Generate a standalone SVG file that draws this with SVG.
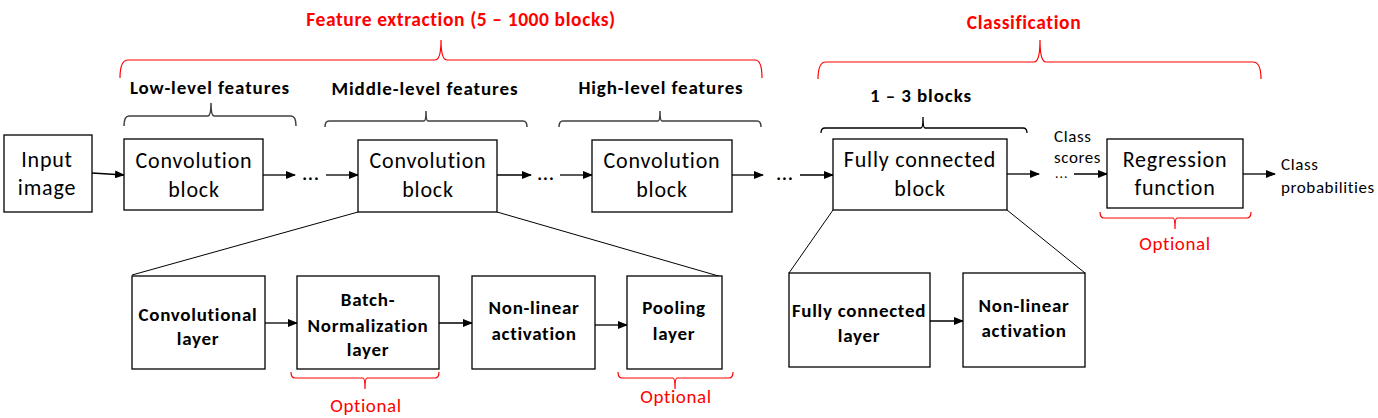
<svg xmlns="http://www.w3.org/2000/svg" width="1378" height="418" viewBox="0 0 1378 418">
<style>
.box{fill:#fff;stroke:#000;stroke-width:1.3}
text{font-family:Calibri,Carlito,"Liberation Sans",Arial,sans-serif}
.t{font-size:22px;letter-spacing:0.8px;fill:#000;text-anchor:middle}
.b{font-size:19px;letter-spacing:0.9px;font-weight:bold;fill:#000;text-anchor:middle}
.bl{font-size:19px;letter-spacing:0.7px;font-weight:bold;fill:#000;text-anchor:middle}
.r{font-size:19.5px;letter-spacing:0.6px;font-weight:bold;fill:#f00;text-anchor:middle}
.opt{font-size:19px;letter-spacing:0.6px;fill:#f00;text-anchor:middle}
.s{font-size:17px;letter-spacing:0.6px;fill:#000}
.dots{font-size:18px;font-weight:bold;letter-spacing:1px;fill:#000;text-anchor:middle}
.arr{stroke:#000;stroke-width:1.3;fill:none;marker-end:url(#ah)}
.ln{stroke:#000;stroke-width:1;fill:none}
.rb{stroke:#f00;stroke-width:1.2;fill:none}
.gb{stroke:#404040;stroke-width:1.5;fill:none}
</style>
<defs>
<marker id="ah" markerWidth="10" markerHeight="8" refX="9" refY="4" orient="auto" markerUnits="userSpaceOnUse">
<path d="M0,0 L10,4 L0,8 z" fill="#000"/>
</marker>
</defs>

<!-- braces -->
<g id="braces">
<path class="rb" d="M120,78 Q120,60 128,60 L435,60 Q441,60 441,40 Q441,60 447,60 L755,60 Q762,60 762,78"/>
<path class="rb" d="M818,79 Q818,62 826,62 L1034,62 Q1040,62 1040,40 Q1040,62 1046,62 L1253,62 Q1261,62 1261,79"/>
<path class="gb" d="M124,126 Q124,116 129,116 L208,116 Q211,116 211,103 Q211,116 214,116 L291,116 Q296,116 296,126"/>
<path class="gb" d="M325,127 Q325,121 329,121 L424,121 Q426,121 426,111 Q426,121 428,121 L523,121 Q527,121 527,127"/>
<path class="gb" d="M559,127 Q559,121 563,121 L658,121 Q660,121 660,111 Q660,121 662,121 L757,121 Q761,121 761,127"/>
<path class="gb" style="stroke:#000;stroke-width:1.3" d="M821,133 Q821,128 825,128 L921,128 Q923,128 923,117 Q923,128 925,128 L1023,128 Q1027,128 1027,133"/>
<path class="rb" d="M291,372 Q291,378 295,378 L363,378 Q365,378 365,389 Q365,378 367,378 L435,378 Q439,378 439,372"/>
<path class="rb" d="M618,372 Q618,378 622,378 L673,378 Q675,378 675,389 Q675,378 677,378 L729,378 Q733,378 733,372"/>
<path class="rb" d="M1100,212 Q1100,218 1104,218 L1173,218 Q1175,218 1175,229 Q1175,218 1177,218 L1247,218 Q1251,218 1251,212"/>
</g>

<!-- headings -->
<g id="headings">
<text class="r" x="461" y="26">Feature extraction  (5 – 1000 blocks)</text>
<text class="r" x="1024" y="29">Classification</text>
<text class="b" x="210" y="94">Low-level features</text>
<text class="b" x="425" y="95">Middle-level  features</text>
<text class="b" x="661" y="94">High-level features</text>
<text class="b" x="921" y="102">1 – 3 blocks</text>
<text class="opt" x="366" y="412">Optional</text>
<text class="opt" x="676" y="403">Optional</text>
<text class="opt" x="1175" y="250">Optional</text>
</g>

<!-- connectors -->
<g id="connectors">
<line class="arr" x1="92" y1="173" x2="124" y2="175"/>
<line class="arr" x1="263" y1="175" x2="295" y2="175"/>
<line class="arr" x1="326" y1="175" x2="358" y2="175"/>
<line class="arr" x1="497" y1="175" x2="531" y2="175"/>
<line class="arr" x1="560" y1="175" x2="592" y2="175"/>
<line class="arr" x1="732" y1="175" x2="763" y2="175"/>
<line class="arr" x1="800" y1="175" x2="833" y2="175"/>
<line class="arr" x1="1007" y1="174" x2="1039" y2="174"/>
<line class="arr" x1="1074" y1="174" x2="1107" y2="174"/>
<line class="arr" x1="1243" y1="174" x2="1275" y2="174"/>
<line class="arr" x1="265" y1="323" x2="297" y2="323"/>
<line class="arr" x1="439" y1="323" x2="472" y2="323"/>
<line class="arr" x1="595" y1="325" x2="627" y2="325"/>
<line class="arr" x1="930" y1="321" x2="963" y2="321"/>
<line class="ln" x1="358" y1="212" x2="132" y2="275"/>
<line class="ln" x1="497" y1="212" x2="722" y2="277"/>
<line class="ln" x1="833" y1="210" x2="789" y2="273"/>
<line class="ln" x1="1007" y1="210" x2="1085" y2="273"/>
<text class="dots" x="311" y="180">...</text>
<text class="dots" x="546" y="180">...</text>
<text class="dots" x="785" y="180">...</text>
<text class="dots" x="1062" y="178" style="font-size:11px;letter-spacing:1.5px">...</text>
<text class="s" x="1054" y="142">Class</text>
<text class="s" x="1054" y="163">scores</text>
<text class="s" x="1281" y="170">Class</text>
<text class="s" x="1281" y="193">probabilities</text>
</g>

<g id="input">
<rect class="box" x="4" y="135" width="88" height="77"/>
<text class="t" x="47" y="167">Input</text>
<text class="t" x="47" y="195">image</text>
</g>
<g id="conv1">
<rect class="box" x="124" y="139" width="139" height="71"/>
<text class="t" x="194" y="168">Convolution</text>
<text class="t" x="194" y="197">block</text>
</g>
<g id="conv2">
<rect class="box" x="358" y="140" width="139" height="72"/>
<text class="t" x="428" y="168">Convolution</text>
<text class="t" x="428" y="197">block</text>
</g>
<g id="conv3">
<rect class="box" x="592" y="140" width="140" height="72"/>
<text class="t" x="662" y="168">Convolution</text>
<text class="t" x="662" y="197">block</text>
</g>
<g id="fc">
<rect class="box" x="833" y="139" width="174" height="71"/>
<text class="t" x="920" y="167">Fully connected</text>
<text class="t" x="920" y="196">block</text>
</g>
<g id="regression">
<rect class="box" x="1107" y="139" width="136" height="69"/>
<text class="t" x="1175" y="167">Regression</text>
<text class="t" x="1175" y="195">function</text>
</g>
<g id="convlayer">
<rect class="box" x="132" y="276" width="133" height="93"/>
<text class="bl" x="198" y="321">Convolutional</text>
<text class="bl" x="198" y="345">layer</text>
</g>
<g id="bn">
<rect class="box" x="297" y="276" width="142" height="93"/>
<text class="bl" x="368" y="306">Batch-</text>
<text class="bl" x="368" y="332">Normalization</text>
<text class="bl" x="368" y="356">layer</text>
</g>
<g id="nl1">
<rect class="box" x="472" y="276" width="123" height="93"/>
<text class="bl" x="534" y="314">Non-linear</text>
<text class="bl" x="534" y="340">activation</text>
</g>
<g id="pool">
<rect class="box" x="627" y="276" width="95" height="93"/>
<text class="bl" x="674" y="314">Pooling</text>
<text class="bl" x="674" y="340">layer</text>
</g>
<g id="fclayer">
<rect class="box" x="789" y="273" width="141" height="94"/>
<text class="bl" x="859" y="317">Fully connected</text>
<text class="bl" x="859" y="342">layer</text>
</g>
<g id="nl2">
<rect class="box" x="963" y="273" width="122" height="94"/>
<text class="bl" x="1024" y="312">Non-linear</text>
<text class="bl" x="1024" y="337">activation</text>
</g>
</svg>
